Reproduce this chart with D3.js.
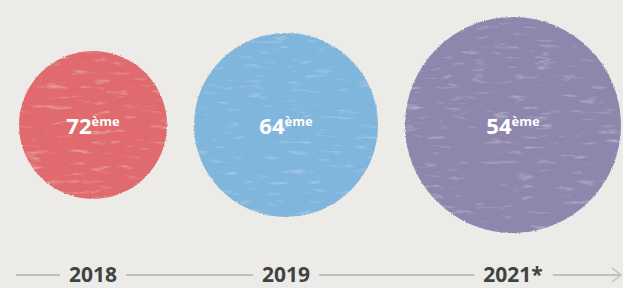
<!DOCTYPE html>
<html>
<head>
<meta charset="utf-8">
<script src="https://cdn.jsdelivr.net/npm/d3@7"></script>
<style>
  body { margin: 0; background: #edebe7; }
  svg { display: block; }
</style>
</head>
<body>
<div id="chart"></div>
<script>
var years = ["2018", "2019", "2021*"]
var ranks = [72, 64, 54]
var rankSuffix = "ème"
var colors = ["#e06a6d", "#80b6dc", "#8e86ad"]

var width = 623
var height = 288
var gap = 27      // space between two circles
var startX = 19
var cy = 125
var axisY = 275

var svg = d3.select("#chart").append("svg")
  .attr("width", width)
  .attr("height", height)

svg.append("rect")
  .attr("width", width)
  .attr("height", height)
  .attr("fill", "#edebe7")

// chalky look: rough edge + faint light patches
var defs = svg.append("defs")
var chalk = defs.append("filter")
  .attr("id", "chalk")
  .attr("x", "-5%").attr("y", "-5%")
  .attr("width", "110%").attr("height", "110%")
chalk.append("feTurbulence")
  .attr("type", "fractalNoise")
  .attr("baseFrequency", "0.9")
  .attr("numOctaves", 2)
  .attr("seed", 3)
  .attr("result", "noise")
chalk.append("feDisplacementMap")
  .attr("in", "SourceGraphic")
  .attr("in2", "noise")
  .attr("scale", 2.5)
  .attr("xChannelSelector", "R")
  .attr("yChannelSelector", "G")
  .attr("result", "disp")
chalk.append("feTurbulence")
  .attr("type", "fractalNoise")
  .attr("baseFrequency", "0.045 0.2")
  .attr("numOctaves", 4)
  .attr("seed", 11)
  .attr("result", "streak")
chalk.append("feColorMatrix")
  .attr("in", "streak")
  .attr("type", "matrix")
  .attr("values", "0 0 0 0 1  0 0 0 0 1  0 0 0 0 1  0.8 0 0 0 -0.49")
  .attr("result", "streakWhite")
chalk.append("feComposite")
  .attr("in", "streakWhite")
  .attr("in2", "disp")
  .attr("operator", "in")
  .attr("result", "streakIn")
var merge = chalk.append("feMerge")
merge.append("feMergeNode").attr("in", "disp")
merge.append("feMergeNode").attr("in", "streakIn")

var rScale = d3.scaleLinear()
  .domain([72, 64, 54])
  .range([74, 92, 108])

var data = []
var x = startX
for (var i = 0; i < ranks.length; i++) {
  var r = rScale(ranks[i])
  data.push({ year: years[i], rank: ranks[i], color: colors[i], r: r, cx: x + r })
  x += 2 * r + gap
}

var bubbles = svg.selectAll(".bubble").data(data).enter().append("g")
  .attr("class", "bubble")

bubbles.append("circle")
  .attr("cx", function(d) { return d.cx })
  .attr("cy", cy)
  .attr("r", function(d) { return d.r })
  .attr("fill", function(d) { return d.color })
  .attr("filter", "url(#chalk)")

var label = bubbles.append("text")
  .attr("x", function(d) { return d.cx })
  .attr("y", 134)
  .attr("text-anchor", "middle")
  .attr("fill", "#ffffff")
  .attr("font-family", "'Open Sans', sans-serif")
  .attr("font-weight", 700)
  .attr("font-size", 22)
label.append("tspan")
  .text(function(d) { return d.rank })
label.append("tspan")
  .attr("font-size", 13)
  .attr("dy", -8)
  .text(rankSuffix)

// year axis
var yearText = svg.selectAll(".year").data(data).enter().append("text")
  .attr("class", "year")
  .attr("x", function(d) { return d.cx })
  .attr("y", axisY + 7)
  .attr("text-anchor", "middle")
  .attr("fill", "#3e4346")
  .attr("font-family", "'Open Sans', sans-serif")
  .attr("font-weight", 700)
  .attr("font-size", 21)
  .text(function(d) { return d.year })

var bounds = []
yearText.each(function(d) {
  var w = this.getComputedTextLength()
  bounds.push([d.cx - w / 2, d.cx + w / 2])
})

var segs = []
var prev = 16
bounds.forEach(function(b) {
  segs.push([prev, b[0] - 9])
  prev = b[1] + 9
})
segs.push([prev + 1, 620])

svg.selectAll(".axis-seg").data(segs).enter().append("line")
  .attr("class", "axis-seg")
  .attr("x1", function(d) { return d[0] })
  .attr("x2", function(d) { return d[1] })
  .attr("y1", axisY)
  .attr("y2", axisY)
  .attr("stroke", "#c2c0bc")
  .attr("stroke-width", 2)

svg.append("path")
  .attr("d", "M612," + (axisY - 7) + "L621," + axisY + "L612," + (axisY + 7))
  .attr("fill", "none")
  .attr("stroke", "#c2c0bc")
  .attr("stroke-width", 1.5)
</script>
</body>
</html>
